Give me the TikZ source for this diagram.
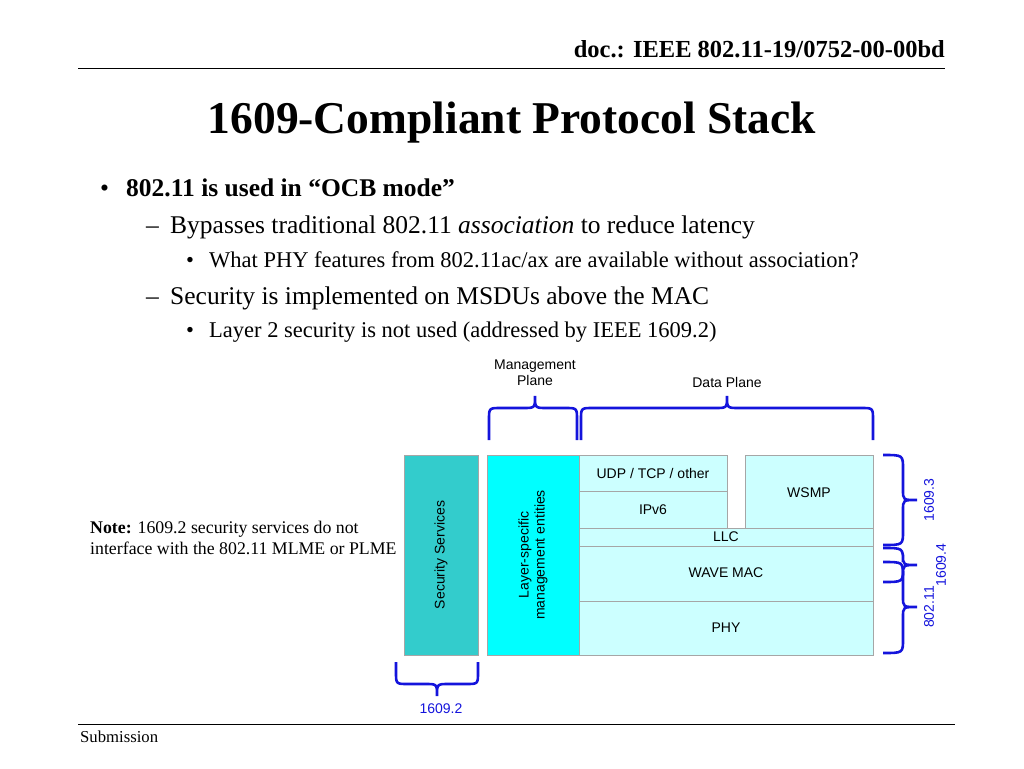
\documentclass[tikz,border=0pt]{standalone}
\usepackage{fontspec}
\setmainfont{Liberation Serif}
\setsansfont{Liberation Sans}
\definecolor{bb}{RGB}{20,20,220}
\definecolor{teal1}{RGB}{51,204,204}
\definecolor{cy}{RGB}{0,255,255}
\definecolor{lc}{RGB}{204,255,255}
\newcommand\myrbrace[3]{\draw[br] (883,#1) .. controls (903,#1) .. (903,#1+14) -- (903,#3-10) .. controls (903,#3) .. (917,#3) .. controls (903,#3) .. (903,#3+10) -- (903,#2-14) .. controls (903,#2) .. (883,#2);}
\begin{document}
\begin{tikzpicture}[x=1pt,y=-1pt,
  br/.style={draw=bb,line width=2.6pt},
  lay/.style={draw=gray!70,fill=lc,inner sep=0pt,font=\sffamily\fontsize{14}{16}\selectfont},
  lbl/.style={font=\sffamily\fontsize{14}{16}\selectfont,align=center},
  blbl/.style={font=\sffamily\fontsize{14}{16}\selectfont,text=bb}]
\useasboundingbox (0,0) rectangle (1024,768);
\node[anchor=base east,inner sep=0pt,font=\bfseries\fontsize{24.5}{28}\selectfont] (hdr) at (945,58) {doc.: IEEE 802.11-19/0752-00-00bd};
\draw[line width=0.8pt] (78,68) -- (945,68);
\node[font=\bfseries\fontsize{45.5}{50}\selectfont] (title) at (512,123) {1609-Compliant Protocol Stack};
\begin{scope}[every node/.style={anchor=base west,inner sep=0pt}]
\node[font=\fontsize{25.5}{28}\selectfont] (b1) at (100,196) {•};
\node[font=\bfseries\fontsize{25.5}{28}\selectfont] (t1) at (126,196) {802.11 is used in “OCB mode”};
\node[font=\fontsize{25.5}{28}\selectfont] (d1) at (146,233) {–};
\node[font=\fontsize{25.5}{28}\selectfont] (t2) at (170,233) {Bypasses traditional 802.11 \textit{association} to reduce latency};
\node[font=\fontsize{22.5}{24}\selectfont] (b2) at (186,267) {•};
\node[font=\fontsize{22.5}{24}\selectfont] (t3) at (209,267) {What PHY features from 802.11ac/ax are available without association?};
\node[font=\fontsize{25.5}{28}\selectfont] (d2) at (146,304) {–};
\node[font=\fontsize{25.5}{28}\selectfont] (t4) at (170,304) {Security is implemented on MSDUs above the MAC};
\node[font=\fontsize{22.5}{24}\selectfont] (b3) at (186,337) {•};
\node[font=\fontsize{22.5}{24}\selectfont] (t5) at (209,337) {Layer 2 security is not used (addressed by IEEE 1609.2)};
\node[font=\fontsize{17.8}{20}\selectfont] (n1) at (90,533) {\textbf{Note:} 1609.2 security services do not};
\node[font=\fontsize{17.8}{20}\selectfont] (n2) at (90,554) {interface with the 802.11 MLME or PLME};
\node[font=\fontsize{16.7}{18}\selectfont] (sub) at (80,742) {Submission};
\end{scope}
\draw[line width=0.8pt] (78,724) -- (955,724);
% boxes
\draw[draw=gray!70,fill=teal1] (404,455) rectangle (478,655);
\node[lbl,rotate=90] (sec) at (441,555) {Security Services};
\draw[draw=gray!70,fill=cy] (487,455) rectangle (579,655);
\node[lbl,rotate=90] (lsm) at (533,555) {Layer-specific\\management entities};
\draw[lay] (579,455) rectangle (727,491); \node[lbl] (udp) at (653,473) {UDP / TCP / other};
\draw[lay] (579,491) rectangle (727,528); \node[lbl] (ip) at (653,510) {IPv6};
\draw[lay] (745,455) rectangle (873,528); \node[lbl] (ws) at (809,493) {WSMP};
\draw[lay] (579,528) rectangle (873,546); \node[lbl] (llc) at (726,537) {LLC};
\draw[lay] (579,546) rectangle (873,601); \node[lbl] (mac) at (726,573) {WAVE MAC};
\draw[lay] (579,601) rectangle (873,655); \node[lbl] (phy) at (726,628) {PHY};
% top braces
\draw[br] (489,440) -- (489,420) .. controls (489,408) .. (501,408) -- (523,408) .. controls (535,408) .. (535,396) .. controls (535,408) .. (547,408) -- (565,408) .. controls (577,408) .. (577,420) -- (577,440);
\draw[br] (581,440) -- (581,420) .. controls (581,408) .. (593,408) -- (715,408) .. controls (727,408) .. (727,396) .. controls (727,408) .. (739,408) -- (861,408) .. controls (873,408) .. (873,420) -- (873,440);
\node[lbl] (mp) at (535,373) {Management\\Plane};
\node[lbl] (dp) at (727,382) {Data Plane};
% bottom brace
\draw[br] (396,662) -- (396,672) .. controls (396,684) .. (408,684) -- (425,684) .. controls (437,684) .. (437,696) .. controls (437,684) .. (449,684) -- (466,684) .. controls (478,684) .. (478,672) -- (478,662);
\node[blbl] (l2) at (441,709) {1609.2};
% right braces
\myrbrace{455}{545}{500}
\myrbrace{548}{582}{565}
\myrbrace{562}{653}{607}
\node[blbl,rotate=90] (l3) at (929,500) {1609.3};
\node[blbl,rotate=90] (l4) at (941,565) {1609.4};
\node[blbl,rotate=90] (l1) at (929,607) {802.11};
\end{tikzpicture}
\end{document}
